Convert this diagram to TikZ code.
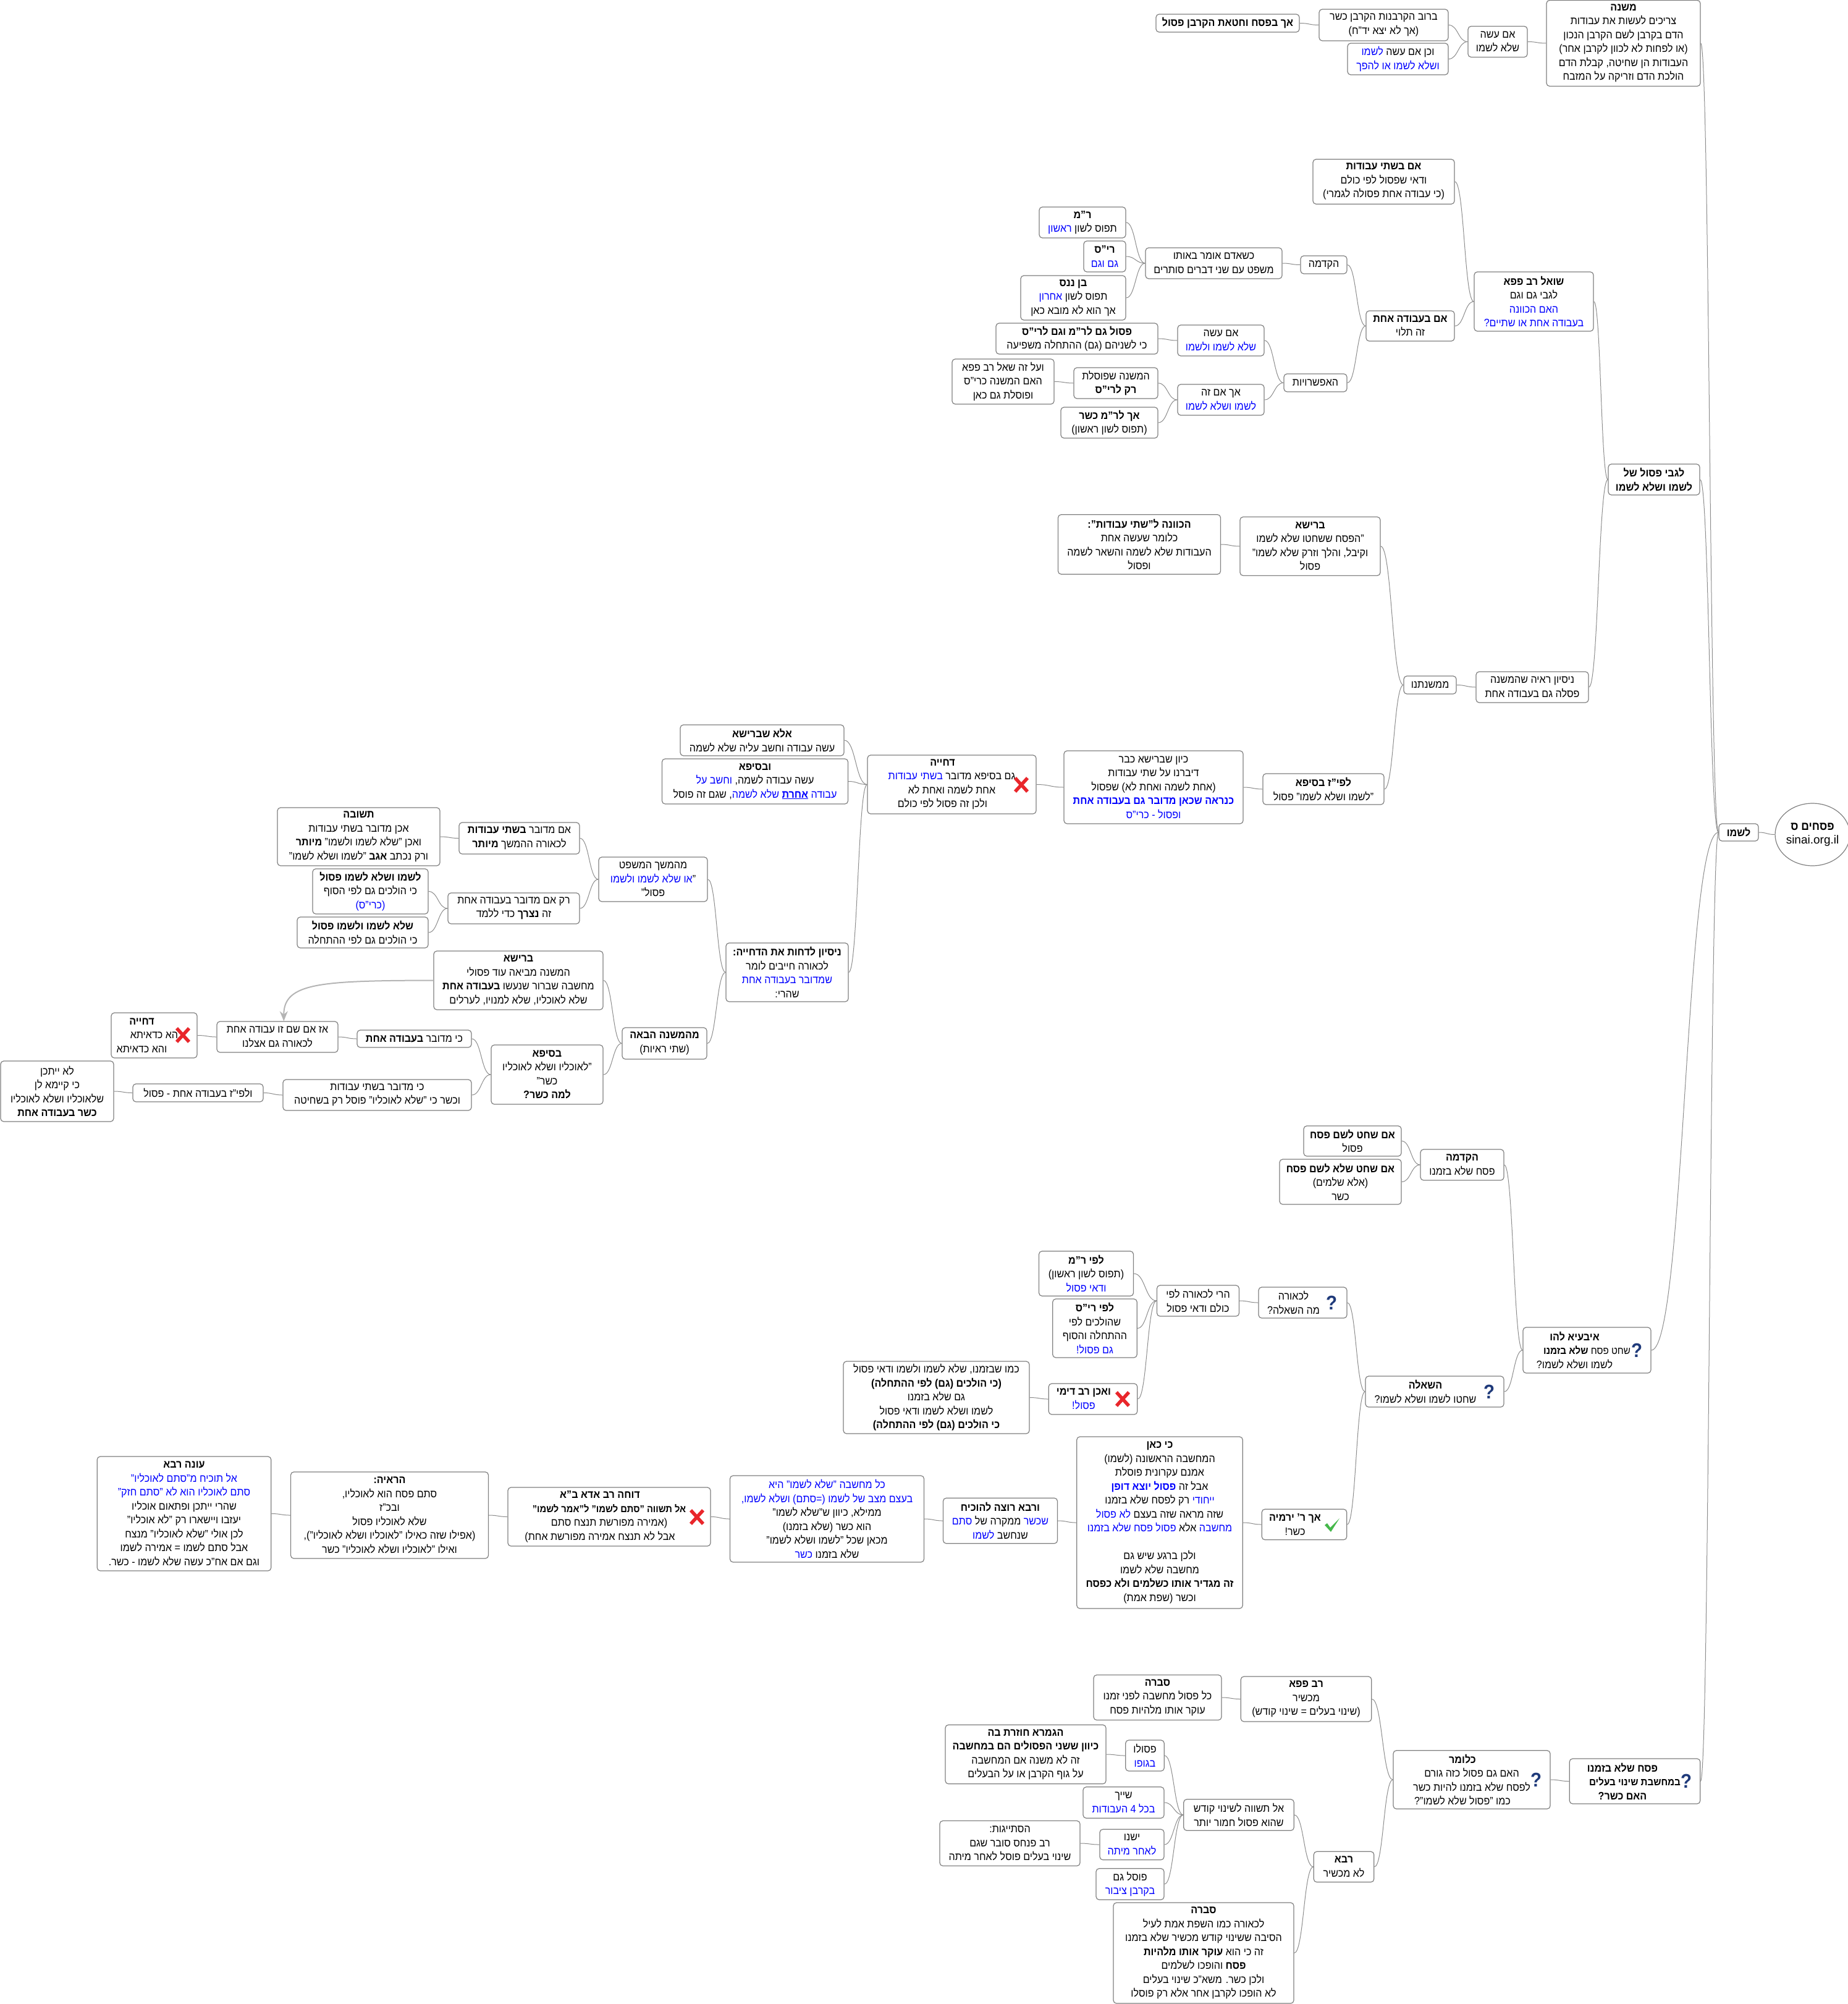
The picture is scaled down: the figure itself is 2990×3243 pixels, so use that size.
\documentclass[tikz,border=0pt]{standalone}
\usepackage{fontspec}
\usepackage{xcolor}
\setmainfont[Script=Hebrew,FakeStretch=0.92]{Liberation Sans}
\newfontfamily\latinfont{Liberation Sans}
\TeXXeTstate=1
\usetikzlibrary{arrows.meta,positioning,calc,shapes.geometric}
\definecolor{ink}     {HTML}{000000}
\definecolor{edge}    {HTML}{808080}
\definecolor{branch}  {HTML}{8C8C8C}
\definecolor{hint}    {HTML}{B4B4B4}
\definecolor{cobalt}  {HTML}{0000FF}
\definecolor{navy}    {HTML}{1F3A7A}
\definecolor{crimson} {HTML}{E9262B}
\definecolor{leaf}    {HTML}{45B84A}
\newcommand{\rl}[1]{\beginR #1\endR}
\newcommand{\rli}[1]{\beginR #1\endR\hspace*{30pt}}
\newcommand{\rlw}[1]{\beginR #1\endR\hspace*{40pt}}
\newcommand{\bl}[1]{\beginL\textcolor{cobalt}{\beginR #1\endR}\endL}
\newcommand{\bb}[1]{\textbf{#1}}
\tikzset{
  mbox/.style={draw=edge,line width=1.2pt,rounded corners=5pt,fill=white,text=ink,align=center,inner sep=0pt,
               font=\fontsize{17.5}{22.5}\selectfont},
  wh/.style 2 args={minimum width=#1,minimum height=#2},
  lnk/.style={draw=branch,line width=1pt,to path={let \p1=(\tikztostart),\p2=(\tikztotarget),\n1={0.5*(\x2-\x1)} in .. controls ($(\p1)+(\n1,0)$) and ($(\p2)-(\n1,0)$) .. (\tikztotarget)}},
  askmark/.style={text=navy,inner sep=0pt,font=\fontsize{32}{32}\selectfont\bfseries},
  crossicon/.pic={\draw[crimson,line width=5.5pt] (-10,-11) -- (10,11) (-10,11) -- (10,-11);},
  tickicon/.pic={\fill[leaf] (-12,0) -- (-8,-3) -- (-3,4) -- (12,-11) -- (-2,11) -- cycle;}
}
\begin{document}
\begin{tikzpicture}[x=1pt,y=-1pt]
\useasboundingbox (0,0) rectangle (2990,3243);
\node[draw=edge,line width=1.2pt,ellipse,inner sep=0pt,minimum width=113,minimum height=101,align=center,font=\fontsize{19}{22.5}\selectfont] (root) at (2933.5,1350.5) {\rl{\bb{פסחים ס}}\\{\latinfont sinai.org.il}};
\node[mbox,wh={64}{28}] (lishmo) at (2814,1347) {\rl{\bb{לשמו}}};
\node[mbox,wh={249}{139}] (mishna) at (2627.5,70) {\rl{\bb{משנה}}\\\rl{צריכים לעשות את עבודות}\\\rl{הדם בקרבן לשם הקרבן הנכון}\\\rl{(או לפחות לא לכוון לקרבן אחר)}\\\rl{העבודות הן שחיטה, קבלת הדם}\\\rl{הולכת הדם וזריקה על המזבח}};
\node[mbox,wh={96}{50}] (imasa) at (2424,67.5) {\rl{אם עשה}\\\rl{שלא לשמו}};
\node[mbox,wh={209}{51}] (rov) at (2239.5,40.5) {\rl{ברוב הקרבנות הקרבן כשר}\\\rl{(אך לא יצא יד"ח)}};
\node[mbox,wh={163}{51}] (vechen) at (2262.5,95.5) {\rl{וכן אם עשה \bl{לשמו}}\\\rl{\bl{ושלא לשמו או להפך}}};
\node[mbox,wh={232}{29}] (pesachchatat) at (1987,37.5) {\rl{\bb{אך בפסח וחטאת הקרבן פסול}}};
\node[mbox,wh={148}{50}] (legabei) at (2677,776) {\rl{\bb{לגבי פסול של}}\\\rl{\bb{לשמו ושלא לשמו}}};
\node[mbox,wh={193}{96}] (papa) at (2482.5,488) {\rl{\bb{שואל רב פפא}}\\\rl{לגבי גם וגם}\\\rl{\bl{האם הכוונה}}\\\rl{\bl{בעבודה אחת או שתיים?}}};
\node[mbox,wh={229}{72.5}] (bishtei) at (2239.5,294) {\rl{\bb{אם בשתי עבודות}}\\\rl{ודאי שפסול לפי כולם}\\\rl{(כי עבודה אחת פסולה לגמרי)}};
\node[mbox,wh={143}{49}] (beachat) at (2282.5,527.5) {\rl{\bb{אם בעבודה אחת}}\\\rl{זה תלוי}};
\node[mbox,wh={75}{29}] (hakdama) at (2142.5,428.5) {\rl{הקדמה}};
\node[mbox,wh={221}{50}] (kesheadam) at (1964.5,426) {\rl{כשאדם אומר באותו}\\\rl{משפט עם שני דברים סותרים}};
\node[mbox,wh={140}{50}] (rm) at (1752,360) {\rl{\bb{ר"מ}}\\\rl{תפוס לשון \bl{ראשון}}};
\node[mbox,wh={68}{50}] (ris) at (1788,415) {\rl{\bb{רי"ס}}\\\rl{\bl{גם וגם}}};
\node[mbox,wh={170}{72}] (bennanas) at (1737,482) {\rl{\bb{בן ננס}}\\\rl{תפוס לשון \bl{אחרון}}\\\rl{אך הוא לא מובא כאן}};
\node[mbox,wh={102}{29}] (efsharuyot) at (2129,619.5) {\rl{האפשרויות}};
\node[mbox,wh={140}{50}] (imasab) at (1976,551) {\rl{אם עשה}\\\rl{\bl{שלא לשמו ולשמו}}};
\node[mbox,wh={262}{50}] (pasulgam) at (1743,548) {\rl{\bb{פסול גם לר"מ וגם לרי"ס}}\\\rl{כי לשניהם (גם) ההתחלה משפיעה}};
\node[mbox,wh={140}{50}] (achimze) at (1976,647) {\rl{אך אם זה}\\\rl{\bl{לשמו ושלא לשמו}}};
\node[mbox,wh={136}{50}] (hamishna) at (1806,620) {\rl{המשנה שפוסלת}\\\rl{\bb{רק לרי"ס}}};
\node[mbox,wh={165}{73}] (alze) at (1623.5,617.5) {\rl{ועל זה שאל רב פפא}\\\rl{האם המשנה כרי"ס}\\\rl{ופוסלת גם כאן}};
\node[mbox,wh={157}{50}] (achlarm) at (1795.5,684) {\rl{\bb{אך לר"מ כשר}}\\\rl{(תפוס לשון ראשון)}};
\node[mbox,wh={182}{50}] (nisayon) at (2480,1112) {\rl{ניסיון ראיה שהמשנה}\\\rl{פסלה גם בעבודה אחת}};
\node[mbox,wh={85}{29}] (mimishnatenu) at (2314.5,1108.5) {\rl{ממשנתנו}};
\node[mbox,wh={227}{95}] (reisha) at (2120.5,884) {\rl{\bb{ברישא}}\\\rl{"הפסח ששחטו שלא לשמו}\\\rl{וקיבל, והלך וזרק שלא לשמו"}\\\rl{פסול}};
\node[mbox,wh={263}{96.5}] (kavana) at (1844,881) {\rl{\bb{הכוונה ל"שתי עבודות":}}\\\rl{כלומר שעשה אחת}\\\rl{העבודות שלא לשמה והשאר לשמה}\\\rl{ופסול}};
\node[mbox,wh={196}{50}] (lefiz) at (2142,1277) {\rl{\bb{לפי"ז בסיפא}}\\\rl{"לשמו ושלא לשמו" פסול}};
\node[mbox,wh={290}{118}] (keivan) at (1867,1274) {\rl{כיון שברישא כבר}\\\rl{דיברנו על שתי עבודות}\\\rl{(אחת לשמה ואחת לא) שפסול}\\\rl{\bl{\bb{כנראה שכאן מדובר גם בעבודה אחת}}}\\\rl{\bl{ופסול - כרי"ס}}};
\node[mbox,wh={273}{95}] (dchiya) at (1540.5,1269.5) {\rli{\bb{דחייה}}\\\rli{גם בסיפא מדובר \bl{בשתי עבודות}}\\\rli{אחת לשמה ואחת לא}\\\rli{ולכן זה פסול לפי כולם}};
\node[mbox,wh={265}{50}] (ela) at (1233.5,1198) {\rl{\bb{אלא שברישא}}\\\rl{עשה עבודה וחשב עליה שלא לשמה}};
\node[mbox,wh={301}{73}] (uvaseifa) at (1222,1264.5) {\rl{\bb{ובסיפא}}\\\rl{עשה עבודה לשמה, \bl{וחשב על}}\\\rl{\bl{עבודה \underline{\bb{אחרת}} שלא לשמה}, שגם זה פוסל}};
\node[mbox,wh={198}{95}] (nisayonl) at (1274,1573.5) {\rl{\bb{ניסיון לדחות את הדחייה:}}\\\rl{לכאורה חייבים לומר}\\\rl{\bl{שמדובר בעבודה אחת}}\\\rl{שהרי:}};
\node[mbox,wh={176}{72}] (mehemshech) at (1057,1423) {\rl{מהמשך המשפט}\\\rl{"\bl{או שלא לשמו ולשמו}}\\\rl{פסול"}};
\node[mbox,wh={195}{51}] (imbishtei) at (840.5,1356.5) {\rl{אם מדובר \bb{בשתי עבודות}}\\\rl{לכאורה ההמשך \bb{מיותר}}};
\node[mbox,wh={263}{94}] (tshuva) at (580.5,1354) {\rl{\bb{תשובה}}\\\rl{אכן מדובר בשתי עבודות}\\\rl{ואכן "שלא לשמו ולשמו" \bb{מיותר}}\\\rl{ורק נכתב \bb{אגב} "לשמו ושלא לשמו"}};
\node[mbox,wh={213}{50}] (rakim) at (831.5,1470) {\rl{רק אם מדובר בעבודה אחת}\\\rl{זה \bb{נצרך} כדי ללמד}};
\node[mbox,wh={187}{73}] (lishmoa) at (599.5,1442.5) {\rl{\bb{לשמו ושלא לשמו פסול}}\\\rl{כי הולכים גם לפי הסוף}\\\rl{\bl{(כרי"ס)}}};
\node[mbox,wh={212}{50}] (sheloa) at (587,1509) {\rl{\bb{שלא לשמו ולשמו פסול}}\\\rl{כי הולכים גם לפי ההתחלה}};
\node[mbox,wh={137}{51}] (mehamishna) at (1075.5,1688.5) {\rl{\bb{מהמשנה הבאה}}\\\rl{(שתי ראיות)}};
\node[mbox,wh={274}{95}] (reishab) at (839,1586.5) {\rl{\bb{ברישא}}\\\rl{המשנה מביאה עוד פסולי}\\\rl{מחשבה שברור שנעשו \bb{בעבודה אחת}}\\\rl{שלא לאוכליו, שלא למנויו, לערלים}};
\node[mbox,wh={181}{96}] (seifab) at (885.5,1739) {\rl{\bb{בסיפא}}\\\rl{"לאוכליו ושלא לאוכליו}\\\rl{כשר"}\\\rl{\bb{למה כשר?}}};
\node[mbox,wh={185}{28}] (kiachat) at (670.5,1681) {\rl{כי מדובר \bb{בעבודה אחת}}};
\node[mbox,wh={196}{50}] (azim) at (449,1678) {\rl{אז אם שם זו עבודה אחת}\\\rl{לכאורה גם אצלנו}};
\node[mbox,wh={139}{73}] (dchiyab) at (249.5,1675.5) {\rlw{\bb{דחייה}}\\\rlw{הא כדאיתא}\\\rlw{והא כדאיתא}};
\node[mbox,wh={305}{50}] (kishtei) at (610.5,1772) {\rl{כי מדובר בשתי עבודות}\\\rl{וכשר כי "שלא לאוכליו" פוסל רק בשחיטה}};
\node[mbox,wh={211}{29}] (velefi) at (320.5,1768.5) {\rl{ולפי"ז בעבודה אחת - פסול}};
\node[mbox,wh={183}{98}] (loyitachen) at (92.5,1766) {\rl{לא ייתכן}\\\rl{כי קיימא לן}\\\rl{שלאוכליו ושלא לאוכליו}\\\rl{\bb{כשר בעבודה אחת}}};
\node[mbox,wh={207}{74}] (ibaya) at (2568.5,2185) {\rlw{\bb{איבעיא להו}}\\\rlw{\fontsize{16.5}{22.5}\selectfont שחט פסח \bb{שלא בזמנו}}\\\rlw{לשמו ושלא לשמו?}};
\node[mbox,wh={135}{50}] (hakdamab) at (2366.5,1885) {\rl{\bb{הקדמה}}\\\rl{פסח שלא בזמנו}};
\node[mbox,wh={158}{49}] (imshachat) at (2189,1846.5) {\rl{\bb{אם שחט לשם פסח}}\\\rl{פסול}};
\node[mbox,wh={197}{73}] (imshelo) at (2169.5,1912.5) {\rl{\bb{אם שחט שלא לשם פסח}}\\\rl{(אלא שלמים)}\\\rl{כשר}};
\node[mbox,wh={224}{50}] (hashaala) at (2322,2252) {\rli{\bb{השאלה}}\\\rli{שחטו לשמו ושלא לשמו?}};
\node[mbox,wh={143}{50}] (lichora) at (2108.5,2108) {\rli{לכאורה}\\\rli{מה השאלה?}};
\node[mbox,wh={133}{50}] (harei) at (1939,2105) {\rl{הרי לכאורה לפי}\\\rl{כולם ודאי פסול}};
\node[mbox,wh={153}{72.5}] (lefirm) at (1758,2061) {\rl{\bb{לפי ר"מ}}\\\rl{(תפוס לשון ראשון)}\\\rl{\bl{ודאי פסול}}};
\node[mbox,wh={136.5}{95}] (lefiris) at (1772,2149.5) {\rl{\bb{לפי רי"ס}}\\\rl{שהולכים לפי}\\\rl{ההתחלה והסוף}\\\rl{\bl{גם פסול!}}};
\node[mbox,wh={143.5}{50}] (vaachen) at (1769,2264) {\rli{\bb{ואכן רב דימי}}\\\rli{\bl{פסול!}}};
\node[mbox,wh={301}{117}] (kmo) at (1515.5,2261.5) {\rl{כמו שבזמנו, שלא לשמו ולשמו ודאי פסול}\\\rl{\bb{(כי הולכים (גם) לפי ההתחלה)}}\\\rl{גם שלא בזמנו}\\\rl{לשמו ושלא לשמו ודאי פסול}\\\rl{\bb{כי הולכים (גם) לפי ההתחלה)}}};
\node[mbox,wh={137.5}{49.5}] (yirmiya) at (2111,2467) {\rli{\bb{אך ר' ירמיה}}\\\rli{כשר!}};
\node[mbox,wh={268.5}{278}] (kikan) at (1877,2464) {\rl{\bb{כי כאן}}\\\rl{המחשבה הראשונה (לשמו)}\\\rl{אמנם עקרונית פוסלת}\\\rl{אבל זה \bl{\bb{פסול יוצא דופן}}}\\\rl{\bl{ייחודי} רק לפסח שלא בזמנו}\\\rl{שזה מראה שזה בעצם \bl{לא פסול}}\\\rl{\bl{מחשבה} אלא \bl{פסול פסח שלא בזמנו}}\\[22.5pt]\rl{ולכן ברגע שיש גם}\\\rl{מחשבה שלא לשמו}\\\rl{\bb{זה מגדיר אותו כשלמים ולא כפסח}}\\\rl{וכשר (שפת אמת)}};
\node[mbox,wh={185}{73.5}] (rava) at (1619,2461) {\rl{\bb{ורבא רוצה להוכיח}}\\\rl{\bl{שכשר} ממקרה של \bl{סתם}}\\\rl{שנחשב \bl{לשמו}}};
\node[mbox,wh={314}{140}] (kolmach) at (1338.5,2458) {\rl{\bl{כל מחשבה "שלא לשמו" היא}}\\\rl{\bl{בעצם מצב של לשמו (=סתם) ושלא לשמו,}}\\\rl{ממילא, כיוון ש"שלא לשמו"}\\\rl{הוא כשר (שלא בזמנו)}\\\rl{מכאן שכל "לשמו ושלא לשמו"}\\\rl{שלא בזמנו \bl{כשר}}};
\node[mbox,wh={328}{95}] (docheh) at (986,2454.5) {\rli{\bb{דוחה רב אדא ב"א}}\\\rli{\fontsize{16}{22.5}\selectfont\bb{אל תשווה "סתם לשמו" ל"אמר לשמו"}}\\\rli{(אמירה מפורשת תנצח סתם}\\\rli{אבל לא תנצח אמירה מפורשת אחת)}};
\node[mbox,wh={320}{140}] (haraya) at (630.5,2452) {\rl{\bb{הראיה:}}\\\rl{סתם פסח הוא לאוכליו,}\\\rl{ובכ"ז}\\\rl{שלא לאוכליו פסול}\\\rl{(אפילו שזה כאילו "לאוכליו ושלא לאוכליו"),}\\\rl{ואילו "לאוכליו ושלא לאוכליו" כשר}};
\node[mbox,wh={281.5}{185}] (ona) at (298,2449.5) {\rl{\bb{עונה רבא}}\\\rl{\bl{אל תוכיח מ"סתם לאוכליו"}}\\\rl{\bl{סתם לאוכליו הוא לא "סתם חזק"}}\\\rl{שהרי ייתכן ופתאום אוכליו}\\\rl{יעזבו ויישארו רק "לא אוכליו"}\\\rl{לכן אולי "שלא לאוכליו" מנצח}\\\rl{אבל סתם לשמו = אמירה לשמו}\\\rl{וגם אם אח"כ עשה שלא לשמו - כשר.}};
\node[mbox,wh={211.5}{73}] (pesachc) at (2646,2882.5) {\rlw{\bb{פסח שלא בזמנו}}\\\rlw{\fontsize{16.5}{22.5}\selectfont\bb{במחשבת שינוי בעלים}}\\\rlw{\bb{האם כשר?}}};
\node[mbox,wh={254}{94.5}] (klomar) at (2382,2880) {\rli{\bb{כלומר}}\\\rli{האם גם פסול כזה גורם}\\\rli{לפסח שלא בזמנו להיות כשר}\\\rli{כמו "פסול שלא לשמו"?}};
\node[mbox,wh={211.5}{73}] (ravpapa) at (2114,2749.5) {\rl{\bb{רב פפא}}\\\rl{מכשיר}\\\rl{(שינוי בעלים = שינוי קודש)}};
\node[mbox,wh={207}{73}] (svara) at (1873.5,2747) {\rl{\bb{סברה}}\\\rl{כל פסול מחשבה לפני זמנו}\\\rl{עוקר אותו מלהיות פסח}};
\node[mbox,wh={97.5}{49.5}] (ravab) at (2175,3021) {\rl{\bb{רבא}}\\\rl{לא מכשיר}};
\node[mbox,wh={178.5}{50.5}] (altashve) at (2005,2937) {\rl{אל תשווה לשינוי קודש}\\\rl{שהוא פסול חמור יותר}};
\node[mbox,wh={62.5}{50}] (psulo) at (1853,2841) {\rl{פסולו}\\\rl{\bl{בגופו}}};
\node[mbox,wh={260}{95.5}] (gemara) at (1660,2839) {\rl{\bb{הגמרא חוזרת בה}}\\\rl{\bb{כיוון ששני הפסולים הם במחשבה}}\\\rl{זה לא משנה אם המחשבה}\\\rl{על גוף הקרבן או על הבעלים}};
\node[mbox,wh={131}{50.5}] (shayach) at (1818.5,2917) {\rl{שייך}\\\rl{\bl{בכל 4 העבודות}}};
\node[mbox,wh={104}{49.5}] (yeshno) at (1832,2985) {\rl{ישנו}\\\rl{\bl{לאחר מיתה}}};
\node[mbox,wh={227}{73}] (histaygut) at (1634.5,2983) {\rl{הסתייגות:}\\\rl{רב פנחס סובר שגם}\\\rl{שינוי בעלים פוסל לאחר מיתה}};
\node[mbox,wh={110}{50.5}] (posel) at (1829,3049) {\rl{פוסל גם}\\\rl{\bl{בקרבן ציבור}}};
\node[mbox,wh={292}{163}] (svarab) at (1948,3160.5) {\rl{\bb{סברה}}\\\rl{לכאורה כמו השפת אמת לעיל}\\\rl{הסיבה ששינוי קודש מכשיר שלא בזמנו}\\\rl{זה כי הוא \bb{עוקר אותו מלהיות}}\\\rl{\bb{פסח} והופכו לשלמים}\\\rl{ולכן כשר. משא"כ שינוי בעלים}\\\rl{לא הופכו לקרבן אחר אלא רק פוסלו}};
\pic (xa) at (1653,1270) {crossicon};
\pic (xb) at (296,1675) {crossicon};
\pic (xc) at (1128,2455) {crossicon};
\pic (xd) at (1817,2264) {crossicon};
\pic (ta) at (2156,2468) {tickicon};
\node[askmark] (qa) at (2155,2108) {?};
\node[askmark] (qb) at (2410,2252) {?};
\node[askmark] (qc) at (2649,2185) {?};
\node[askmark] (qd) at (2486,2880) {?};
\node[askmark] (qe) at (2729,2882) {?};
\draw[lnk] (lishmo.east) to (root.west);
\draw[lnk] (mishna.east) to (lishmo.west);
\draw[lnk] (legabei.east) to (lishmo.west);
\draw[lnk] (ibaya.east) to (lishmo.west);
\draw[lnk] (pesachc.east) to (lishmo.west);
\draw[lnk] (imasa.east) to (mishna.west);
\draw[lnk] (rov.east) to (imasa.west);
\draw[lnk] (vechen.east) to (imasa.west);
\draw[lnk] (pesachchatat.east) to (rov.west);
\draw[lnk] (papa.east) to (legabei.west);
\draw[lnk] (nisayon.east) to (legabei.west);
\draw[lnk] (bishtei.east) to (papa.west);
\draw[lnk] (beachat.east) to (papa.west);
\draw[lnk] (hakdama.east) to (beachat.west);
\draw[lnk] (efsharuyot.east) to (beachat.west);
\draw[lnk] (kesheadam.east) to (hakdama.west);
\draw[lnk] (rm.east) to (kesheadam.west);
\draw[lnk] (ris.east) to (kesheadam.west);
\draw[lnk] (bennanas.east) to (kesheadam.west);
\draw[lnk] (imasab.east) to (efsharuyot.west);
\draw[lnk] (achimze.east) to (efsharuyot.west);
\draw[lnk] (pasulgam.east) to (imasab.west);
\draw[lnk] (hamishna.east) to (achimze.west);
\draw[lnk] (achlarm.east) to (achimze.west);
\draw[lnk] (alze.east) to (hamishna.west);
\draw[lnk] (mimishnatenu.east) to (nisayon.west);
\draw[lnk] (reisha.east) to (mimishnatenu.west);
\draw[lnk] (lefiz.east) to (mimishnatenu.west);
\draw[lnk] (kavana.east) to (reisha.west);
\draw[lnk] (keivan.east) to (lefiz.west);
\draw[lnk] (dchiya.east) to (keivan.west);
\draw[lnk] (ela.east) to (dchiya.west);
\draw[lnk] (uvaseifa.east) to (dchiya.west);
\draw[lnk] (nisayonl.east) to (dchiya.west);
\draw[lnk] (mehemshech.east) to (nisayonl.west);
\draw[lnk] (mehamishna.east) to (nisayonl.west);
\draw[lnk] (imbishtei.east) to (mehemshech.west);
\draw[lnk] (rakim.east) to (mehemshech.west);
\draw[lnk] (tshuva.east) to (imbishtei.west);
\draw[lnk] (lishmoa.east) to (rakim.west);
\draw[lnk] (sheloa.east) to (rakim.west);
\draw[lnk] (reishab.east) to (mehamishna.west);
\draw[lnk] (seifab.east) to (mehamishna.west);
\draw[lnk] (kiachat.east) to (seifab.west);
\draw[lnk] (kishtei.east) to (seifab.west);
\draw[lnk] (azim.east) to (kiachat.west);
\draw[lnk] (dchiyab.east) to (azim.west);
\draw[lnk] (velefi.east) to (kishtei.west);
\draw[lnk] (loyitachen.east) to (velefi.west);
\draw[hint,line width=2pt,-{Stealth[length=16pt,width=13pt]}] (reishab.west) .. controls (520,1587) and (459,1590) .. (azim.68);
\draw[lnk] (hakdamab.east) to (ibaya.west);
\draw[lnk] (hashaala.east) to (ibaya.west);
\draw[lnk] (imshachat.east) to (hakdamab.west);
\draw[lnk] (imshelo.east) to (hakdamab.west);
\draw[lnk] (lichora.east) to (hashaala.west);
\draw[lnk] (yirmiya.east) to (hashaala.west);
\draw[lnk] (harei.east) to (lichora.west);
\draw[lnk] (lefirm.east) to (harei.west);
\draw[lnk] (lefiris.east) to (harei.west);
\draw[lnk] (vaachen.east) to (harei.west);
\draw[lnk] (kmo.east) to (vaachen.west);
\draw[lnk] (kikan.east) to (yirmiya.west);
\draw[lnk] (rava.east) to (kikan.west);
\draw[lnk] (kolmach.east) to (rava.west);
\draw[lnk] (docheh.east) to (kolmach.west);
\draw[lnk] (haraya.east) to (docheh.west);
\draw[lnk] (ona.east) to (haraya.west);
\draw[lnk] (klomar.east) to (pesachc.west);
\draw[lnk] (ravpapa.east) to (klomar.west);
\draw[lnk] (ravab.east) to (klomar.west);
\draw[lnk] (svara.east) to (ravpapa.west);
\draw[lnk] (altashve.east) to (ravab.west);
\draw[lnk] (svarab.east) to (ravab.west);
\draw[lnk] (psulo.east) to (altashve.west);
\draw[lnk] (shayach.east) to (altashve.west);
\draw[lnk] (yeshno.east) to (altashve.west);
\draw[lnk] (posel.east) to (altashve.west);
\draw[lnk] (gemara.east) to (psulo.west);
\draw[lnk] (histaygut.east) to (yeshno.west);
\end{tikzpicture}
\end{document}
